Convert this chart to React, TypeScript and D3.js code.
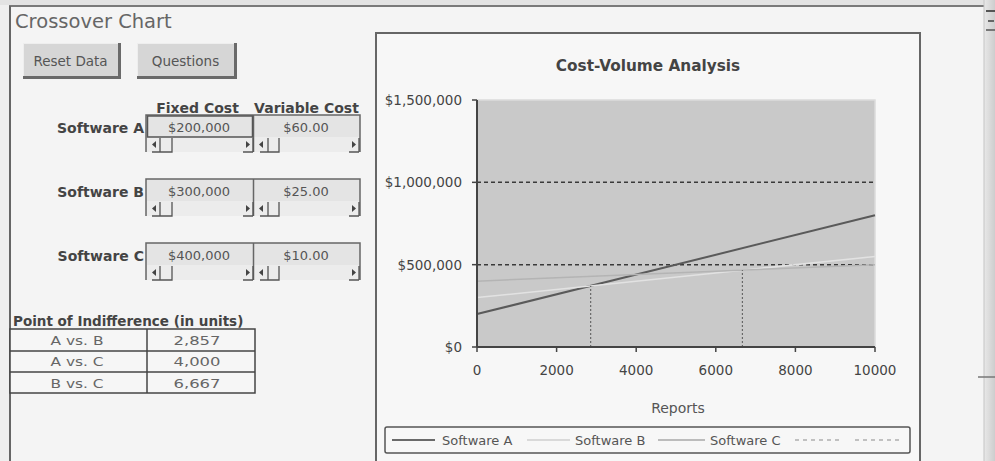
import React from "react";
import * as d3 from "d3";

const softwareNames = ["Software A", "Software B", "Software C"];
const fixedCostLabels = ["$200,000", "$300,000", "$400,000"];
const variableCostLabels = ["$60.00", "$25.00", "$10.00"];
const reports = [0, 10000];
const costA = [200000, 800000];
const costB = [300000, 550000];
const costC = [400000, 500000];
const xTicks = [0, 2000, 4000, 6000, 8000, 10000];
const yTicks = [0, 500000, 1000000, 1500000];
const yTickLabels = ["$0", "$500,000", "$1,000,000", "$1,500,000"];
const gridValues = [500000, 1000000];
const indifferencePairs = ["A vs. B", "A vs. C", "B vs. C"];
const indifferenceUnits = ["2,857", "4,000", "6,667"];
const dropX = [2857, 6667];
const dropY = [371429, 466667];

const FONT = "'DejaVu Sans', Verdana, sans-serif";

export default function App() {
  const x = d3.scaleLinear().domain([0, 10000]).range([477, 875]);
  const y = d3.scaleLinear().domain([0, 1500000]).range([347, 100]);
  const line = d3
    .line<[number, number]>()
    .x((d) => x(d[0]))
    .y((d) => y(d[1]));
  const series = [
    { name: softwareNames[0], values: costA, color: "#5a5a5a", w: 2 },
    { name: softwareNames[1], values: costB, color: "#e2e2e2", w: 1.5 },
    { name: softwareNames[2], values: costC, color: "#b4b4b4", w: 1.5 },
  ];
  const rowTops = [115, 179, 243];

  const legendItems = [
    { x0: 392, x1: 435, tx: 442, label: softwareNames[0], color: "#6a6a6a", dash: "", w: 2 },
    { x0: 527, x1: 570, tx: 575, label: softwareNames[1], color: "#cfcfcf", dash: "", w: 1.5 },
    { x0: 658, x1: 705, tx: 710, label: softwareNames[2], color: "#a8a8a8", dash: "", w: 1.5 },
    { x0: 795, x1: 843, tx: 0, label: "", color: "#b0b0b0", dash: "4,4", w: 1.5 },
    { x0: 855, x1: 902, tx: 0, label: "", color: "#b0b0b0", dash: "4,4", w: 1.5 },
  ];

  return (
    <svg
      width={995}
      height={461}
      style={{ position: "absolute", left: 0, top: 0 }}
      fontFamily={FONT}
    >
      <defs>
        <linearGradient id="sb" x1="0" x2="1" y1="0" y2="0">
          <stop offset="0" stopColor="#e8e8e8" />
          <stop offset="1" stopColor="#cdcdcd" />
        </linearGradient>
      </defs>
      {/* page background */}
      <rect x={0} y={0} width={995} height={461} fill="#f4f4f4" />
      <rect x={0} y={0} width={995} height={5} fill="#e3e3e3" />
      <rect x={0} y={5} width={9} height={456} fill="#efefef" />
      <line x1={9} x2={984} y1={6} y2={6} stroke="#7a7a7a" strokeWidth={2} />
      <line x1={10} x2={10} y1={6} y2={461} stroke="#666" strokeWidth={2} />

      {/* right scrollbar */}
      <rect x={984} y={0} width={11} height={461} fill="url(#sb)" />
      <line x1={984} x2={984} y1={0} y2={461} stroke="#c4c4c4" />
      <line x1={986} x2={995} y1={11} y2={11} stroke="#555" strokeWidth={2} />
      <line x1={988} x2={994} y1={21} y2={21} stroke="#666" strokeWidth={2} />
      <line x1={986} x2={995} y1={30} y2={30} stroke="#777" strokeWidth={2} />
      <line x1={978} x2={995} y1={377} y2={377} stroke="#777" strokeWidth={1.5} />

      {/* title */}
      <text x={15} y={28} fontSize={19.5} fill="#666">
        Crossover Chart
      </text>

      {/* buttons */}
      {[
        { x: 23, w: 98, label: "Reset Data" },
        { x: 137, w: 100, label: "Questions" },
      ].map((b) => (
        <g key={b.label}>
          <rect x={b.x} y={43} width={b.w} height={36} fill="#6a6a6a" />
          <rect x={b.x} y={43} width={b.w - 3} height={33} fill="#d6d6d6" />
          <line x1={b.x} x2={b.x + b.w - 3} y1={43.5} y2={43.5} stroke="#eee" />
          <line x1={b.x + 0.5} x2={b.x + 0.5} y1={43} y2={76} stroke="#eee" />
          <text
            x={b.x + (b.w - 3) / 2}
            y={66}
            fontSize={13.5}
            fill="#555"
            textAnchor="middle"
          >
            {b.label}
          </text>
        </g>
      ))}

      {/* cost inputs */}
      <text x={197.5} y={113} fontSize={14} fontWeight="bold" fill="#444" textAnchor="middle">
        Fixed Cost
      </text>
      <text x={306.5} y={113} fontSize={14} fontWeight="bold" fill="#444" textAnchor="middle">
        Variable Cost
      </text>
      {rowTops.map((T, i) => (
        <g key={i}>
          <text x={144} y={T + 17.5} fontSize={14} fontWeight="bold" fill="#444" textAnchor="end">
            {softwareNames[i]}
          </text>
          <rect x={146} y={T} width={214} height={37} fill="#e4e4e4" />
          <rect x={147} y={T + 22} width={212} height={15} fill="#ececec" />
          <path
            d={`M146,${T + 37} V${T} H360 V${T + 37}`}
            fill="none"
            stroke="#666"
            strokeWidth={1.5}
          />
          <line x1={253.5} x2={253.5} y1={T} y2={T + 37} stroke="#666" strokeWidth={1.5} />
          {i === 0 && (
            <rect x={147.5} y={T + 1} width={105} height={21} fill="none" stroke="#555" strokeWidth={1.5} />
          )}
          <text x={199} y={T + 17} fontSize={13} fill="#555" textAnchor="middle">
            {fixedCostLabels[i]}
          </text>
          <text x={306} y={T + 17} fontSize={13} fill="#555" textAnchor="middle">
            {variableCostLabels[i]}
          </text>
          {/* scroll rows */}
          {[
            { l: 150, t0: 160, t1: 172, r: 243 },
            { l: 257, t0: 268, t1: 279, r: 349 },
          ].map((s, k) => (
            <g key={k}>
              <path d={`M${s.l + 6},${T + 26} L${s.l + 2},${T + 29.5} L${s.l + 6},${T + 33} Z`} fill="#444" />
              <path d={`M${s.r + 3},${T + 26} L${s.r + 7},${T + 29.5} L${s.r + 3},${T + 33} Z`} fill="#444" />
              <path
                d={`M${s.t0},${T + 37} V${T + 23} M${s.t1},${T + 23} V${T + 37} H${s.t0 - 8}`}
                fill="none"
                stroke="#555"
                strokeWidth={1.3}
              />
              <path
                d={`M${s.r},${T + 37} H${s.r + 10} M${s.r + 10},${T + 23} V${T + 37}`}
                fill="none"
                stroke="#555"
                strokeWidth={1.3}
              />
            </g>
          ))}
        </g>
      ))}

      {/* point of indifference */}
      <text x={13} y={326} fontSize={13.5} fontWeight="bold" fill="#444">
        Point of Indifference (in units)
      </text>
      <rect x={10} y={329} width={245} height={64} fill="#f6f6f6" stroke="#444" strokeWidth={1.5} />
      <line x1={147} x2={147} y1={329} y2={393} stroke="#444" strokeWidth={1.5} />
      <line x1={10} x2={255} y1={351} y2={351} stroke="#444" strokeWidth={1.5} />
      <line x1={10} x2={255} y1={372} y2={372} stroke="#444" strokeWidth={1.5} />
      {indifferencePairs.map((p, i) => (
        <g key={p}>
          <text
            x={77}
            y={345 + i * 21.3}
            fontSize={13}
            fill="#666"
            textAnchor="middle"
            textLength={53}
            lengthAdjust="spacingAndGlyphs"
          >
            {p}
          </text>
          <text
            x={197}
            y={345 + i * 21.3}
            fontSize={13}
            fill="#666"
            textAnchor="middle"
            textLength={47}
            lengthAdjust="spacingAndGlyphs"
          >
            {indifferenceUnits[i]}
          </text>
        </g>
      ))}

      {/* chart area */}
      <rect x={376} y={33} width={544} height={440} fill="#f7f7f7" />
      <path d="M376,473 V33 H920 V473" fill="none" stroke="#666" strokeWidth={2} />
      <text x={648} y={71} fontSize={15.3} fontWeight="bold" fill="#444" textAnchor="middle">
        Cost-Volume Analysis
      </text>

      {/* plot area */}
      <rect x={x(0)} y={y(1500000)} width={x(10000) - x(0)} height={y(0) - y(1500000)} fill="#c9c9c9" />
      <path
        d={`M${x(0)},${y(1500000)} H${x(10000)} V${y(0)}`}
        fill="none"
        stroke="#dcdcdc"
        strokeWidth={1.5}
      />

      {gridValues.map((g) => (
        <line
          key={g}
          x1={x(0)}
          x2={x(10000)}
          y1={y(g)}
          y2={y(g)}
          stroke="#3a3a3a"
          strokeWidth={1.5}
          strokeDasharray="4,3"
        />
      ))}

      {series.map((s) => (
        <path
          key={s.name}
          d={line(reports.map((r, i) => [r, s.values[i]]) as [number, number][]) || ""}
          fill="none"
          stroke={s.color}
          strokeWidth={s.w}
        />
      ))}

      {dropX.map((dx, i) => (
        <line
          key={dx}
          x1={x(dx)}
          x2={x(dx)}
          y1={y(0)}
          y2={y(dropY[i])}
          stroke="#555"
          strokeWidth={1}
          strokeDasharray="2,2"
        />
      ))}

      {/* axes */}
      <line x1={x(0)} x2={x(0)} y1={y(1500000)} y2={y(0)} stroke="#444" strokeWidth={2} />
      <line x1={x(0)} x2={x(10000)} y1={y(0)} y2={y(0)} stroke="#444" strokeWidth={2} />
      {yTicks.map((t, i) => (
        <g key={t}>
          <line x1={x(0) - 5} x2={x(0)} y1={y(t)} y2={y(t)} stroke="#444" strokeWidth={1.5} />
          <text
            x={462}
            y={y(t) + 5}
            fontSize={13.5}
            fill="#444"
            textAnchor="end"
          >
            {yTickLabels[i]}
          </text>
        </g>
      ))}
      {xTicks.map((t) => (
        <g key={t}>
          <line x1={x(t)} x2={x(t)} y1={y(0)} y2={y(0) + 5} stroke="#444" strokeWidth={1.5} />
          <text x={x(t)} y={375} fontSize={13.5} fill="#444" textAnchor="middle">
            {t}
          </text>
        </g>
      ))}
      <text x={678} y={413} fontSize={14} fill="#555" textAnchor="middle">
        Reports
      </text>

      {/* legend */}
      <rect x={385} y={427} width={525} height={26} rx={2} fill="#f7f7f7" stroke="#555" strokeWidth={1.5} />
      {legendItems.map((l, i) => (
        <g key={i}>
          <line
            x1={l.x0}
            x2={l.x1}
            y1={440}
            y2={440}
            stroke={l.color}
            strokeWidth={l.w}
            strokeDasharray={l.dash || undefined}
          />
          {l.label && (
            <text x={l.tx} y={445} fontSize={13} fill="#555">
              {l.label}
            </text>
          )}
        </g>
      ))}
    </svg>
  );
}
